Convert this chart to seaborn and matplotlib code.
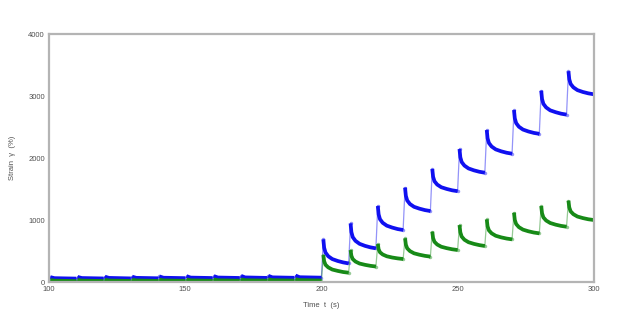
import numpy as np
import pandas as pd
import matplotlib
matplotlib.use("Agg")
import matplotlib.pyplot as plt
import seaborn as sns
from matplotlib.ticker import MultipleLocator

# ---------------- data ----------------
# step start times (s)
low_steps = [100, 110, 120, 130, 140, 150, 160, 170, 180, 190]
high_steps = [200, 210, 220, 230, 240, 250, 260, 270, 280, 290]

# low-stress region: readings at offsets [0.5, 2, 10] s after each step
low_offsets = [0.5, 2.0, 10.0]
low_blue = [[78, 62, 55], [82, 64, 57], [86, 66, 58], [86, 67, 60], [90, 69, 62],
            [94, 71, 64], [95, 72, 65], [99, 74, 66], [100, 75, 68], [104, 77, 70]]
low_green = [[32, 22, 15], [33, 23, 16], [35, 24, 17], [36, 25, 18], [38, 26, 19],
             [40, 27, 20], [41, 28, 21], [42, 29, 22], [43, 30, 23], [45, 31, 24]]

# high-stress region: readings at offsets [0.7, 1, 1.5, 2.5, 4, 6, 8, 10] s after each step
high_offsets = [0.7, 1.0, 1.5, 2.5, 4.0, 6.0, 8.0, 10.0]
high_blue = [
    [688, 552, 475, 416, 370, 339, 316, 300],
    [946, 805, 724, 664, 616, 583, 559, 543],
    [1226, 1091, 1013, 955, 909, 878, 854, 839],
    [1522, 1390, 1315, 1258, 1213, 1183, 1160, 1145],
    [1823, 1698, 1626, 1572, 1529, 1501, 1479, 1465],
    [2145, 2011, 1935, 1878, 1832, 1801, 1778, 1763],
    [2452, 2318, 2242, 2185, 2139, 2108, 2085, 2070],
    [2774, 2640, 2563, 2505, 2459, 2428, 2405, 2390],
    [3086, 2951, 2874, 2816, 2769, 2739, 2715, 2700],
    [3400, 3270, 3195, 3140, 3095, 3065, 3043, 3028],
]
high_green = [
    [435, 335, 278, 236, 201, 179, 161, 150],
    [516, 423, 370, 330, 298, 277, 261, 250],
    [613, 528, 480, 444, 415, 395, 381, 371],
    [705, 602, 543, 499, 463, 440, 422, 410],
    [812, 708, 649, 605, 569, 546, 528, 516],
    [919, 801, 733, 682, 642, 615, 595, 581],
    [1011, 898, 833, 785, 746, 720, 701, 688],
    [1118, 1001, 935, 885, 845, 818, 798, 785],
    [1226, 1109, 1042, 992, 952, 925, 905, 892],
    [1312, 1203, 1140, 1094, 1056, 1031, 1012, 1000],
]

x_ticks = [100, 150, 200, 250, 300]
y_ticks = [0, 1000, 2000, 3000, 4000]

BLUE = "#1010f0"
GREEN = "#178a17"

# ---------------- build tables ----------------
decay_rows = []
rise_rows = []
seg_id = 0
for name, low, high in (("blue", low_blue, high_blue), ("green", low_green, high_green)):
    prev_end = 0.0
    for steps, offs, vals in ((low_steps, low_offsets, low), (high_steps, high_offsets, high)):
        for t0, seg in zip(steps, vals):
            seg_id += 1
            rise_rows.append(dict(series=name, seg=seg_id, time=t0, strain=prev_end))
            rise_rows.append(dict(series=name, seg=seg_id, time=t0 + offs[0], strain=seg[0]))
            for o, v in zip(offs, seg):
                decay_rows.append(dict(series=name, seg=seg_id, time=t0 + o, strain=v))
            prev_end = seg[-1]

decay = pd.DataFrame(decay_rows)
rise = pd.DataFrame(rise_rows)
palette = {"blue": BLUE, "green": GREEN}

# ---------------- plot ----------------
sns.set_style("white")
plt.rcParams["font.family"] = ["Liberation Sans", "DejaVu Sans"]

fig = plt.figure(figsize=(6.29, 3.24), dpi=100)
ax = fig.add_axes([0.078, 0.1296, 0.866, 0.7654])

sns.lineplot(data=rise, x="time", y="strain", hue="series", units="seg",
             estimator=None, palette=palette, lw=0.9, alpha=0.45,
             marker="o", markersize=2.5, markeredgewidth=0, legend=False, ax=ax)
sns.lineplot(data=decay, x="time", y="strain", hue="series", units="seg",
             estimator=None, palette=palette, lw=2.7, solid_capstyle="butt",
             legend=False, ax=ax)

ax.set_xlim(100, 300)
ax.set_ylim(0, 4000)
ax.set_xticks(x_ticks)
ax.set_yticks(y_ticks)
ax.xaxis.set_minor_locator(MultipleLocator(10))
ax.yaxis.set_minor_locator(MultipleLocator(250))
ax.tick_params(axis="both", which="major", direction="in", length=3, width=0.8,
               color="#999999", labelsize=5.5, labelcolor="#505050", pad=3)
ax.tick_params(axis="both", which="minor", direction="in", length=2, width=0.6,
               color="#999999")

for s in ax.spines.values():
    s.set_color("#b4b4b4")
    s.set_linewidth(1.6)

ax.set_xlabel("Time  t  (s)", fontsize=5.5, color="#505050", labelpad=6)
ax.set_ylabel("Strain  γ  (%)", fontsize=5.5, color="#505050", labelpad=9)

fig.savefig("out.png", dpi=100)
